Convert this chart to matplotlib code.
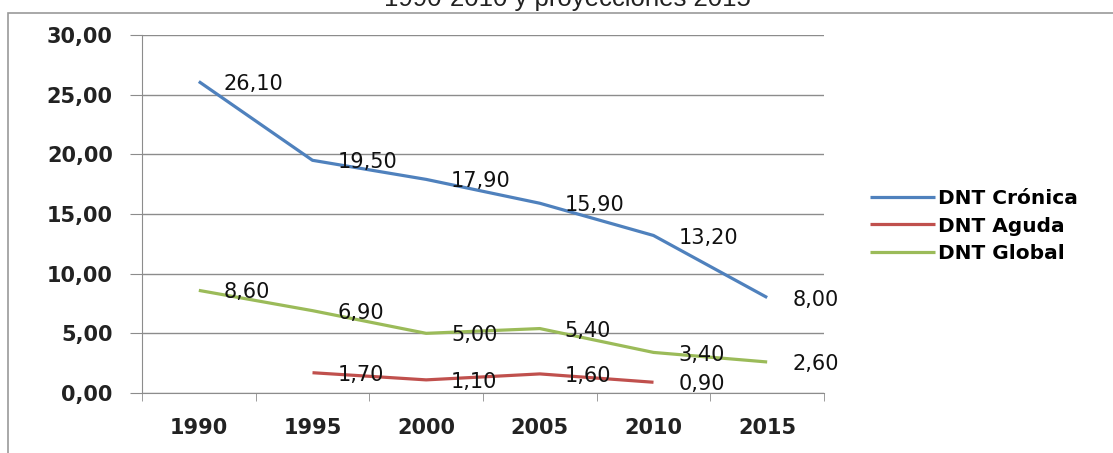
import matplotlib.pyplot as plt
import numpy as np
from matplotlib.patches import Rectangle

years = ["1990", "1995", "2000", "2005", "2010", "2015"]
cronica = [26.10, 19.50, 17.90, 15.90, 13.20, 8.00]
aguda = [np.nan, 1.70, 1.10, 1.60, 0.90, np.nan]
global_ = [8.60, 6.90, 5.00, 5.40, 3.40, 2.60]

series = [
    ("DNT Crónica", cronica, "#4F81BD"),
    ("DNT Aguda", aguda, "#C0504D"),
    ("DNT Global", global_, "#9BBB59"),
]

W, H = 1113, 453
fig = plt.figure(figsize=(W / 100, H / 100), dpi=100)

# outer frame of the chart area (cut at right/bottom)
fig.patches.append(Rectangle((8 / W, -0.1), 1.2, 1 - 13 / H + 0.1,
                             transform=fig.transFigure, fill=False,
                             edgecolor="#9a9a9a", linewidth=1.2))

# title, partly cut at the top like in the source image
fig.text(567 / W, 1 - 6 / H, "1990-2010 y proyecciones 2015", ha="center",
         va="baseline", fontsize=18.5, family="Liberation Sans", color="#222222")

ax = fig.add_axes([142 / W, 1 - 393 / H, 682 / W, 358 / H])
x = np.arange(len(years))

for name, vals, color in series:
    ax.plot(x, vals, color=color, linewidth=2.3, label=name, solid_capstyle="butt")
    for xi, v in zip(x, vals):
        if np.isnan(v):
            continue
        ax.annotate(f"{v:.2f}".replace(".", ","), (xi, v), xytext=(18, -1.5),
                    textcoords="offset points", va="center", ha="left",
                    fontsize=15, color="#111111", family="DejaVu Sans")

ax.set_xlim(-0.5, len(years) - 0.5)
ax.set_ylim(0, 30)
ax.set_yticks(np.arange(0, 31, 5))
ax.set_yticklabels([f"{v:.2f}".replace(".", ",") for v in np.arange(0, 31, 5)])
ax.yaxis.grid(True, color="#8c8c8c", linewidth=1)
ax.set_axisbelow(True)

ax.set_xticks(x)
ax.set_xticklabels(years)
ax.set_xticks(np.arange(-0.5, len(years), 1), minor=True)
ax.tick_params(axis="x", which="major", length=0, pad=18)
ax.tick_params(axis="x", which="minor", length=6, color="#8c8c8c", direction="out")
ax.tick_params(axis="y", length=9, color="#8c8c8c", pad=12)
for lbl in ax.get_xticklabels() + ax.get_yticklabels():
    lbl.set_fontsize(15)
    lbl.set_fontweight("bold")
    lbl.set_color("#222222")

for s in ["top", "right"]:
    ax.spines[s].set_visible(False)
ax.spines["left"].set_color("#8c8c8c")
ax.spines["bottom"].set_color("#8c8c8c")

leg = ax.legend(loc="center left", bbox_to_anchor=(852 / W, 1 - 226 / H),
                bbox_transform=fig.transFigure, frameon=False,
                prop={"family": "DejaVu Sans", "weight": "bold", "size": 14.5},
                handlelength=3.2, handletextpad=0.15, labelspacing=0.4)

fig.savefig("out.png", dpi=100)
